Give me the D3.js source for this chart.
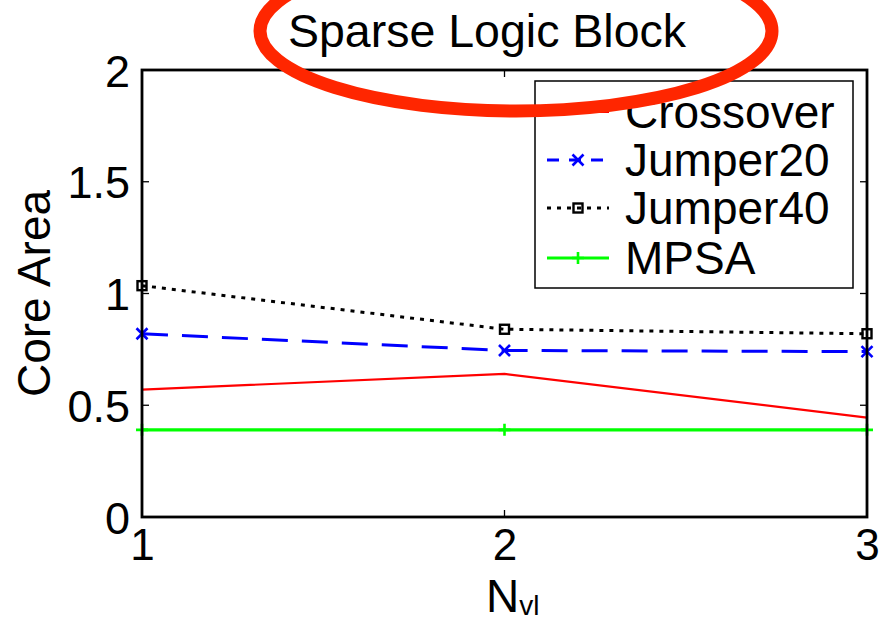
<!DOCTYPE html>
<html>
<head>
<meta charset="utf-8">
<script src="https://cdn.jsdelivr.net/npm/d3@7"></script>
<style>
  html, body { margin: 0; padding: 0; background: #fff; }
  svg { display: block; font-family: "Liberation Sans", Arial, Helvetica, sans-serif; }
</style>
</head>
<body>
<svg id="chart" width="882" height="621"></svg>
<script>
// N_vl values on the x axis
const nvl = [1, 2, 3];
const xTicks = [1, 2, 3];
const yTicks = [0, 0.5, 1, 1.5, 2];
const yTickLabels = ["0", "0.5", "1", "1.5", "2"];

// Core area per configuration
const crossover = [0.57, 0.64, 0.445];
const jumper20 = [0.82, 0.745, 0.74];
const jumper40 = [1.035, 0.84, 0.82];
const mpsa = [0.39, 0.39, 0.39];

const seriesNames = ["Crossover", "Jumper20", "Jumper40", "MPSA"];

const svg = d3.select("#chart");
const plot = { left: 142, right: 867, top: 70, bottom: 517 };

const x = d3.scaleLinear().domain([1, 3]).range([plot.left, plot.right]);
const y = d3.scaleLinear().domain([0, 2]).range([plot.bottom, plot.top]);

const series = [
  { name: seriesNames[0], values: crossover, color: "#ff0000", width: 2.2, dash: null, marker: "none" },
  { name: seriesNames[1], values: jumper20, color: "#0000ff", width: 3, dash: "26,14", marker: "x" },
  { name: seriesNames[2], values: jumper40, color: "#000000", width: 3, dash: "4,6", marker: "square" },
  { name: seriesNames[3], values: mpsa, color: "#00ff00", width: 3.2, dash: null, marker: "plus" }
];

function drawMarker(g, type, cx, cy, color) {
  if (type === "x") {
    const s = 5.5;
    g.append("path")
      .attr("d", `M${cx - s},${cy - s}L${cx + s},${cy + s}M${cx - s},${cy + s}L${cx + s},${cy - s}`)
      .attr("stroke", color).attr("stroke-width", 2.6).attr("fill", "none");
  } else if (type === "square") {
    const s = 4.5;
    g.append("rect")
      .attr("x", cx - s).attr("y", cy - s).attr("width", 2 * s).attr("height", 2 * s)
      .attr("stroke", color).attr("stroke-width", 2.4).attr("fill", "none");
  } else if (type === "plus") {
    const s = 6;
    g.append("path")
      .attr("d", `M${cx - s},${cy}L${cx + s},${cy}M${cx},${cy - s}L${cx},${cy + s}`)
      .attr("stroke", color).attr("stroke-width", 2.6).attr("fill", "none");
  }
}

// tick labels
const xAxis = d3.axisBottom(x).tickValues(xTicks).tickSize(0).tickPadding(0).tickFormat(d3.format("d"));
const gx = svg.append("g").attr("transform", `translate(0,${plot.bottom})`).call(xAxis);
gx.select(".domain").remove();
gx.selectAll("text")
  .attr("font-size", 44).attr("fill", "#000").attr("dy", null).attr("y", 43)
  .attr("font-family", "Liberation Sans, Arial, sans-serif");

const yAxis = d3.axisLeft(y).tickValues(yTicks).tickSize(0).tickPadding(0)
  .tickFormat((d, i) => yTickLabels[i]);
const gy = svg.append("g").attr("transform", `translate(${plot.left},0)`).call(yAxis);
gy.select(".domain").remove();
gy.selectAll("text")
  .attr("font-size", 45).attr("fill", "#000").attr("x", -12).attr("dy", "0.36em")
  .attr("font-family", "Liberation Sans, Arial, sans-serif");

// inner ticks on all four sides
const tickLen = 7;
const ticks = svg.append("g").attr("stroke", "#000").attr("stroke-width", 1.3);
yTicks.forEach(v => {
  ticks.append("line").attr("x1", plot.left).attr("x2", plot.left + tickLen).attr("y1", y(v)).attr("y2", y(v));
  ticks.append("line").attr("x1", plot.right).attr("x2", plot.right - tickLen).attr("y1", y(v)).attr("y2", y(v));
});
xTicks.forEach(v => {
  ticks.append("line").attr("x1", x(v)).attr("x2", x(v)).attr("y1", plot.bottom).attr("y2", plot.bottom - tickLen);
  ticks.append("line").attr("x1", x(v)).attr("x2", x(v)).attr("y1", plot.top).attr("y2", plot.top + tickLen);
});

// series lines
const lineGen = d3.line().x((d, i) => x(nvl[i])).y(d => y(d));
const gLines = svg.append("g");
series.forEach(s => {
  gLines.append("path")
    .attr("d", lineGen(s.values))
    .attr("fill", "none")
    .attr("stroke", s.color)
    .attr("stroke-width", s.width)
    .attr("stroke-dasharray", s.dash);
  s.values.forEach((v, i) => drawMarker(gLines, s.marker, x(nvl[i]), y(v), s.color));
});

// plot frame
svg.append("rect")
  .attr("x", plot.left).attr("y", plot.top)
  .attr("width", plot.right - plot.left).attr("height", plot.bottom - plot.top)
  .attr("fill", "none").attr("stroke", "#000").attr("stroke-width", 2.8);

// legend
const legend = svg.append("g");
legend.append("rect")
  .attr("x", 535).attr("y", 81).attr("width", 318).attr("height", 207)
  .attr("fill", "#fff").attr("stroke", "#000").attr("stroke-width", 1.5);
const baselines = [128, 176, 224, 274];
series.forEach((s, i) => {
  const ly = baselines[i] - 16;
  legend.append("line")
    .attr("x1", 547).attr("x2", 609).attr("y1", ly).attr("y2", ly)
    .attr("stroke", s.color).attr("stroke-width", s.width)
    .attr("stroke-dasharray", s.dash === "26,14" ? "12,10" : s.dash);
  drawMarker(legend, s.marker, 578, ly, s.color);
  legend.append("text")
    .attr("x", 625).attr("y", baselines[i])
    .attr("font-size", 46).attr("fill", "#000")
    .text(s.name);
});

// title
svg.append("text")
  .attr("x", 487).attr("y", 47)
  .attr("text-anchor", "middle")
  .attr("font-size", 46.5).attr("fill", "#000")
  .text("Sparse Logic Block");

// axis labels
svg.append("text")
  .attr("transform", `translate(50,${(plot.top + plot.bottom) / 2}) rotate(-90)`)
  .attr("text-anchor", "middle")
  .attr("font-size", 46).attr("fill", "#000")
  .text("Core Area");

const xl = svg.append("text")
  .attr("x", 486).attr("y", 612)
  .attr("font-size", 46).attr("fill", "#000");
xl.append("tspan").text("N");
xl.append("tspan").attr("font-size", 28).attr("dy", 3).text("vl");

// highlight ring around the title
svg.append("ellipse")
  .attr("cx", 516).attr("cy", 31).attr("rx", 256).attr("ry", 80)
  .attr("fill", "none").attr("stroke", "#ff2600").attr("stroke-width", 13);
</script>
</body>
</html>
